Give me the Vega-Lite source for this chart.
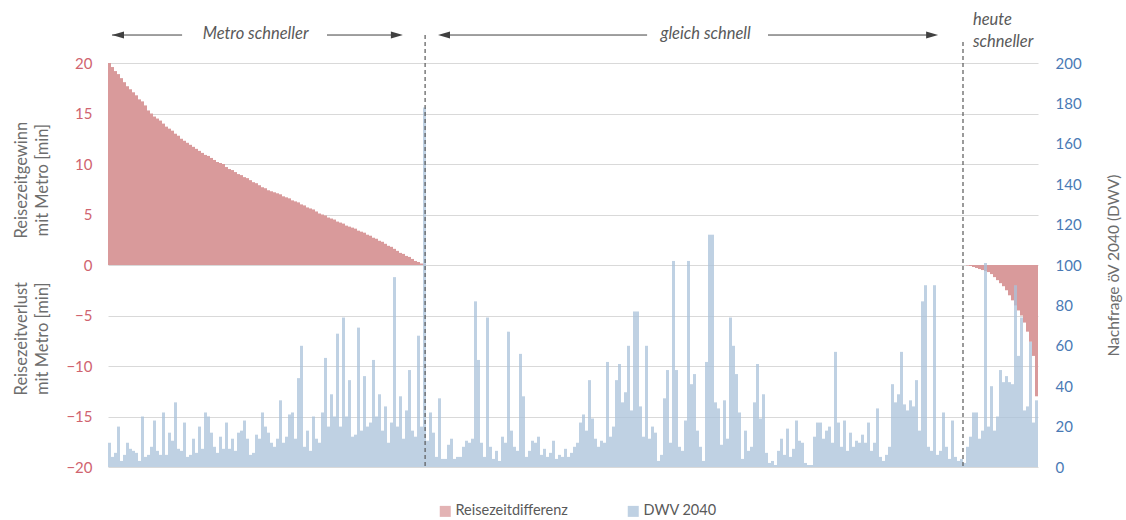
{
"$schema": "https://vega.github.io/schema/vega-lite/v6.json",
"width": 930, "height": 404,
"autosize": "none",
"padding": {"left": 108, "top": 63, "right": 88, "bottom": 53},
"config": {"view": {"stroke": null}, "font": "Lato"},
"datasets": {
"bars": [
{"i":0,"d":20,"v":12},{"i":1,"d":19.6,"v":5},{"i":2,"d":19.2,"v":7},{"i":3,"d":18.9,"v":20},{"i":4,"d":18.5,"v":3},{"i":5,"d":18.1,"v":6},{"i":6,"d":17.7,"v":12},{"i":7,"d":17.4,"v":9},{"i":8,"d":17.1,"v":8},{"i":9,"d":16.8,"v":7},
{"i":10,"d":16.4,"v":3},{"i":11,"d":16.2,"v":25},{"i":12,"d":15.8,"v":5},{"i":13,"d":15.3,"v":6},{"i":14,"d":15.0,"v":10},{"i":15,"d":14.7,"v":23},{"i":16,"d":14.5,"v":8},{"i":17,"d":14.3,"v":6},{"i":18,"d":14.0,"v":27},{"i":19,"d":13.7,"v":6},
{"i":20,"d":13.5,"v":17},{"i":21,"d":13.3,"v":13},{"i":22,"d":13.0,"v":32},{"i":23,"d":12.8,"v":9},{"i":24,"d":12.5,"v":8},{"i":25,"d":12.3,"v":22},{"i":26,"d":12.1,"v":5},{"i":27,"d":11.9,"v":6},{"i":28,"d":11.7,"v":14},{"i":29,"d":11.5,"v":7},
{"i":30,"d":11.3,"v":20},{"i":31,"d":11.1,"v":9},{"i":32,"d":10.9,"v":27},{"i":33,"d":10.8,"v":25},{"i":34,"d":10.6,"v":17},{"i":35,"d":10.4,"v":10},{"i":36,"d":10.2,"v":7},{"i":37,"d":10.1,"v":15},{"i":38,"d":10.0,"v":9},{"i":39,"d":9.7,"v":22},
{"i":40,"d":9.5,"v":9},{"i":41,"d":9.4,"v":14},{"i":42,"d":9.2,"v":8},{"i":43,"d":9.0,"v":17},{"i":44,"d":8.9,"v":18},{"i":45,"d":8.7,"v":23},{"i":46,"d":8.6,"v":14},{"i":47,"d":8.4,"v":6},{"i":48,"d":8.2,"v":7},{"i":49,"d":8.1,"v":16},
{"i":50,"d":7.9,"v":14},{"i":51,"d":7.7,"v":27},{"i":52,"d":7.6,"v":20},{"i":53,"d":7.4,"v":17},{"i":54,"d":7.3,"v":12},{"i":55,"d":7.2,"v":10},{"i":56,"d":7.1,"v":14},{"i":57,"d":7.0,"v":33},{"i":58,"d":6.8,"v":12},{"i":59,"d":6.7,"v":15},
{"i":60,"d":6.6,"v":26},{"i":61,"d":6.4,"v":27},{"i":62,"d":6.3,"v":14},{"i":63,"d":6.2,"v":44},{"i":64,"d":6.0,"v":60},{"i":65,"d":5.9,"v":10},{"i":66,"d":5.7,"v":18},{"i":67,"d":5.6,"v":8},{"i":68,"d":5.5,"v":25},{"i":69,"d":5.3,"v":14},
{"i":70,"d":5.1,"v":12},{"i":71,"d":5.0,"v":27},{"i":72,"d":4.9,"v":54},{"i":73,"d":4.7,"v":20},{"i":74,"d":4.6,"v":36},{"i":75,"d":4.5,"v":25},{"i":76,"d":4.3,"v":66},{"i":77,"d":4.2,"v":20},{"i":78,"d":4.1,"v":74},{"i":79,"d":3.9,"v":25},
{"i":80,"d":3.8,"v":43},{"i":81,"d":3.7,"v":15},{"i":82,"d":3.6,"v":16},{"i":83,"d":3.4,"v":69},{"i":84,"d":3.3,"v":18},{"i":85,"d":3.2,"v":45},{"i":86,"d":3.0,"v":20},{"i":87,"d":2.9,"v":22},{"i":88,"d":2.7,"v":53},{"i":89,"d":2.6,"v":25},
{"i":90,"d":2.4,"v":36},{"i":91,"d":2.3,"v":18},{"i":92,"d":2.1,"v":30},{"i":93,"d":1.9,"v":12},{"i":94,"d":1.8,"v":22},{"i":95,"d":1.6,"v":94},{"i":96,"d":1.4,"v":20},{"i":97,"d":1.2,"v":35},{"i":98,"d":1.1,"v":14},{"i":99,"d":0.9,"v":28},
{"i":100,"d":0.8,"v":48},{"i":101,"d":0.6,"v":18},{"i":102,"d":0.4,"v":15},{"i":103,"d":0.3,"v":65},{"i":104,"d":0.15,"v":20},{"i":105,"d":0.05,"v":178},{"i":106,"d":0,"v":13},{"i":107,"d":0,"v":27},{"i":108,"d":0,"v":17},{"i":109,"d":0,"v":5},
{"i":110,"d":0,"v":34},{"i":111,"d":0,"v":4},{"i":112,"d":0,"v":4},{"i":113,"d":0,"v":11},{"i":114,"d":0,"v":14},{"i":115,"d":0,"v":4},{"i":116,"d":0,"v":5},{"i":117,"d":0,"v":5},{"i":118,"d":0,"v":10},{"i":119,"d":0,"v":13},
{"i":120,"d":0,"v":12},{"i":121,"d":0,"v":14},{"i":122,"d":0,"v":82},{"i":123,"d":0,"v":53},{"i":124,"d":0,"v":12},{"i":125,"d":0,"v":5},{"i":126,"d":0,"v":74},{"i":127,"d":0,"v":10},{"i":128,"d":0,"v":4},{"i":129,"d":0,"v":8},
{"i":130,"d":0,"v":3},{"i":131,"d":0,"v":15},{"i":132,"d":0,"v":12},{"i":133,"d":0,"v":67},{"i":134,"d":0,"v":18},{"i":135,"d":0,"v":10},{"i":136,"d":0,"v":8},{"i":137,"d":0,"v":56},{"i":138,"d":0,"v":35},{"i":139,"d":0,"v":5},
{"i":140,"d":0,"v":8},{"i":141,"d":0,"v":13},{"i":142,"d":0,"v":12},{"i":143,"d":0,"v":15},{"i":144,"d":0,"v":6},{"i":145,"d":0,"v":9},{"i":146,"d":0,"v":5},{"i":147,"d":0,"v":7},{"i":148,"d":0,"v":13},{"i":149,"d":0,"v":4},
{"i":150,"d":0,"v":6},{"i":151,"d":0,"v":5},{"i":152,"d":0,"v":9},{"i":153,"d":0,"v":5},{"i":154,"d":0,"v":7},{"i":155,"d":0,"v":10},{"i":156,"d":0,"v":12},{"i":157,"d":0,"v":22},{"i":158,"d":0,"v":26},{"i":159,"d":0,"v":18},
{"i":160,"d":0,"v":43},{"i":161,"d":0,"v":24},{"i":162,"d":0,"v":14},{"i":163,"d":0,"v":10},{"i":164,"d":0,"v":13},{"i":165,"d":0,"v":12},{"i":166,"d":0,"v":52},{"i":167,"d":0,"v":15},{"i":168,"d":0,"v":20},{"i":169,"d":0,"v":43},
{"i":170,"d":0,"v":51},{"i":171,"d":0,"v":32},{"i":172,"d":0,"v":37},{"i":173,"d":0,"v":60},{"i":174,"d":0,"v":28},{"i":175,"d":0,"v":77},{"i":176,"d":0,"v":77},{"i":177,"d":0,"v":30},{"i":178,"d":0,"v":15},{"i":179,"d":0,"v":60},
{"i":180,"d":0,"v":14},{"i":181,"d":0,"v":20},{"i":182,"d":0,"v":17},{"i":183,"d":0,"v":3},{"i":184,"d":0,"v":6},{"i":185,"d":0,"v":34},{"i":186,"d":0,"v":48},{"i":187,"d":0,"v":12},{"i":188,"d":0,"v":102},{"i":189,"d":0,"v":48},
{"i":190,"d":0,"v":10},{"i":191,"d":0,"v":8},{"i":192,"d":0,"v":23},{"i":193,"d":0,"v":102},{"i":194,"d":0,"v":41},{"i":195,"d":0,"v":46},{"i":196,"d":0,"v":18},{"i":197,"d":0,"v":10},{"i":198,"d":0,"v":3},{"i":199,"d":0,"v":52},
{"i":200,"d":0,"v":115},{"i":201,"d":0,"v":115},{"i":202,"d":0,"v":32},{"i":203,"d":0,"v":29},{"i":204,"d":0,"v":11},{"i":205,"d":0,"v":33},{"i":206,"d":0,"v":14},{"i":207,"d":0,"v":74},{"i":208,"d":0,"v":60},{"i":209,"d":0,"v":46},
{"i":210,"d":0,"v":27},{"i":211,"d":0,"v":4},{"i":212,"d":0,"v":18},{"i":213,"d":0,"v":8},{"i":214,"d":0,"v":10},{"i":215,"d":0,"v":32},{"i":216,"d":0,"v":51},{"i":217,"d":0,"v":24},{"i":218,"d":0,"v":36},{"i":219,"d":0,"v":7},
{"i":220,"d":0,"v":2},{"i":221,"d":0,"v":3},{"i":222,"d":0,"v":1},{"i":223,"d":0,"v":8},{"i":224,"d":0,"v":14},{"i":225,"d":0,"v":6},{"i":226,"d":0,"v":19},{"i":227,"d":0,"v":5},{"i":228,"d":0,"v":9},{"i":229,"d":0,"v":23},
{"i":230,"d":0,"v":13},{"i":231,"d":0,"v":12},{"i":232,"d":0,"v":2},{"i":233,"d":0,"v":1},{"i":234,"d":0,"v":1},{"i":235,"d":0,"v":15},{"i":236,"d":0,"v":22},{"i":237,"d":0,"v":22},{"i":238,"d":0,"v":14},{"i":239,"d":0,"v":18},
{"i":240,"d":0,"v":20},{"i":241,"d":0,"v":12},{"i":242,"d":0,"v":57},{"i":243,"d":0,"v":22},{"i":244,"d":0,"v":10},{"i":245,"d":0,"v":23},{"i":246,"d":0,"v":8},{"i":247,"d":0,"v":17},{"i":248,"d":0,"v":10},{"i":249,"d":0,"v":13},
{"i":250,"d":0,"v":12},{"i":251,"d":0,"v":16},{"i":252,"d":0,"v":12},{"i":253,"d":0,"v":22},{"i":254,"d":0,"v":8},{"i":255,"d":0,"v":12},{"i":256,"d":0,"v":29},{"i":257,"d":0,"v":5},{"i":258,"d":0,"v":3},{"i":259,"d":0,"v":6},
{"i":260,"d":0,"v":10},{"i":261,"d":0,"v":41},{"i":262,"d":0,"v":32},{"i":263,"d":0,"v":36},{"i":264,"d":0,"v":57},{"i":265,"d":0,"v":31},{"i":266,"d":0,"v":28},{"i":267,"d":0,"v":33},{"i":268,"d":0,"v":30},{"i":269,"d":0,"v":43},
{"i":270,"d":0,"v":18},{"i":271,"d":0,"v":82},{"i":272,"d":0,"v":90},{"i":273,"d":0,"v":10},{"i":274,"d":0,"v":8},{"i":275,"d":0,"v":90},{"i":276,"d":0,"v":6},{"i":277,"d":0,"v":8},{"i":278,"d":0,"v":27},{"i":279,"d":0,"v":10},
{"i":280,"d":0,"v":4},{"i":281,"d":0,"v":23},{"i":282,"d":0,"v":5},{"i":283,"d":0,"v":3},{"i":284,"d":0,"v":4},{"i":285,"d":0,"v":2},{"i":286,"d":-0.05,"v":10},{"i":287,"d":-0.1,"v":15},{"i":288,"d":-0.2,"v":27},{"i":289,"d":-0.3,"v":27},
{"i":290,"d":-0.4,"v":14},{"i":291,"d":-0.5,"v":18},{"i":292,"d":-0.6,"v":101},{"i":293,"d":-0.7,"v":20},{"i":294,"d":-0.9,"v":40},{"i":295,"d":-1.2,"v":18},{"i":296,"d":-1.5,"v":25},{"i":297,"d":-1.8,"v":48},{"i":298,"d":-2.1,"v":42},{"i":299,"d":-2.5,"v":45},
{"i":300,"d":-3.0,"v":42},{"i":301,"d":-3.5,"v":41},{"i":302,"d":-4.0,"v":90},{"i":303,"d":-4.5,"v":55},{"i":304,"d":-5.0,"v":74},{"i":305,"d":-5.7,"v":28},{"i":306,"d":-6.6,"v":30},{"i":307,"d":-7.6,"v":62},{"i":308,"d":-9.0,"v":22},{"i":309,"d":-13,"v":33}
],
"vlines": [{"x":105.2,"y":22.77,"y2":-20},{"x":284.5,"y":22.08,"y2":-20}],
"arrows": [{"x":0.83,"x2":24.2,"y":22.77},{"x":72.5,"x2":96,"y":22.77},{"x":111,"x2":179.2,"y":22.77},{"x":219.5,"x2":274,"y":22.77}],
"heads": [{"x":2.83,"y":22.77,"dir":"L"},{"x":95.8,"y":22.77,"dir":"R"},{"x":111.5,"y":22.77,"dir":"L"},{"x":274.2,"y":22.77,"dir":"R"}],
"notes": [{"x":48.7,"y":22.85,"t":"Metro schneller"},{"x":198.7,"y":22.85,"t":"gleich schnell"}],
"heute": [{"x":287.8,"y":24.26,"t":"heute\nschneller"}],
"ytitles": [{"x":-29.2,"y":8.4,"t":"Reisezeitgewinn\nmit Metro [min]"},{"x":-29.2,"y":-7.3,"t":"Reisezeitverlust\nmit Metro [min]"}]
},
"layer": [
{
"data": {"name": "bars"},
"mark": {"type": "bar", "width": 3},
"encoding": {
"x": {"field": "i", "type": "quantitative", "scale": {"domain": [-0.5, 309.5], "nice": false, "zero": false, "padding": 0},
"axis": {"labels": false, "ticks": false, "grid": false, "title": null, "domainColor": "#bfbfbf", "domainWidth": 1}},
"y": {"field": "d", "type": "quantitative", "scale": {"domain": [-20, 20], "nice": false},
"axis": {"values": [-20,-15,-10,-5,0,5,10,15,20], "title": null, "labelColor": "#d0646f", "labelFontSize": 15, "labelFont": "Lato", "labelPadding": 16, "ticks": false, "domain": false, "grid": true, "gridColor": "#d9d9d9", "gridWidth": 1}},
"color": {"datum": "Reisezeitdifferenz", "type": "nominal",
"scale": {"domain": ["Reisezeitdifferenz", "DWV 2040"], "range": ["#d99a9b", "#a9c1da"]},
"legend": {"orient": "none", "legendX": 330, "legendY": 441, "direction": "horizontal", "title": null, "symbolType": "square", "symbolSize": 121, "symbolStrokeWidth": 0, "labelFontSize": 14.5, "labelFont": "Lato", "labelColor": "#595959", "columnPadding": 58, "labelOffset": 3}}
}
},
{
"data": {"name": "bars"},
"mark": {"type": "bar", "width": 3, "opacity": 0.75},
"encoding": {
"x": {"field": "i", "type": "quantitative", "scale": {"domain": [-0.5, 309.5], "nice": false, "zero": false, "padding": 0}, "axis": null},
"y": {"field": "v", "type": "quantitative", "scale": {"domain": [0, 200], "nice": false},
"axis": {"orient": "right", "values": [0,20,40,60,80,100,120,140,160,180,200], "title": "Nachfrage öV 2040 (DWV)", "titleAngle": 270, "titleX": 75, "titleY": 202, "titleAlign": "center", "titleBaseline": "middle", "titleColor": "#6d6d6d", "titleFontSize": 15.5, "titleFontWeight": "normal", "titleFont": "Lato", "labelColor": "#4a7ab5", "labelFontSize": 15, "labelFont": "Lato", "labelPadding": 17, "ticks": false, "domain": false, "grid": false}},
"color": {"datum": "DWV 2040", "type": "nominal"}
}
},
{
"data": {"name": "vlines"},
"mark": {"type": "rule", "color": "#595959", "strokeDash": [4, 3], "strokeWidth": 1.2},
"encoding": {
"x": {"field": "x", "type": "quantitative", "scale": {"domain": [-0.5, 309.5], "nice": false, "zero": false, "padding": 0}, "axis": null},
"y": {"field": "y", "type": "quantitative", "scale": {"domain": [-20, 20], "nice": false}, "axis": null},
"y2": {"field": "y2"}
}
},
{
"data": {"name": "arrows"},
"mark": {"type": "rule", "color": "#404040", "strokeWidth": 1},
"encoding": {
"x": {"field": "x", "type": "quantitative", "scale": {"domain": [-0.5, 309.5], "nice": false, "zero": false, "padding": 0}, "axis": null},
"x2": {"field": "x2"},
"y": {"field": "y", "type": "quantitative", "scale": {"domain": [-20, 20], "nice": false}, "axis": null}
}
},
{
"data": {"name": "heads"},
"mark": {"type": "point", "filled": true, "color": "#404040", "opacity": 1, "size": 144, "strokeWidth": 0},
"encoding": {
"x": {"field": "x", "type": "quantitative", "scale": {"domain": [-0.5, 309.5], "nice": false, "zero": false, "padding": 0}, "axis": null},
"y": {"field": "y", "type": "quantitative", "scale": {"domain": [-20, 20], "nice": false}, "axis": null},
"shape": {"field": "dir", "type": "nominal", "scale": {"domain": ["L", "R"], "range": ["M-1,0L1,-0.6L1,0.6Z", "M1,0L-1,-0.6L-1,0.6Z"]}, "legend": null}
}
},
{
"data": {"name": "notes"},
"mark": {"type": "text", "fontStyle": "italic", "fontSize": 16.5, "color": "#595959", "align": "center", "baseline": "middle"},
"encoding": {
"x": {"field": "x", "type": "quantitative", "scale": {"domain": [-0.5, 309.5], "nice": false, "zero": false, "padding": 0}, "axis": null},
"y": {"field": "y", "type": "quantitative", "scale": {"domain": [-20, 20], "nice": false}, "axis": null},
"text": {"field": "t", "type": "nominal"}
}
},
{
"data": {"name": "heute"},
"mark": {"type": "text", "fontStyle": "italic", "fontSize": 16.5, "color": "#595959", "align": "left", "baseline": "middle", "lineBreak": "\n", "lineHeight": 22},
"encoding": {
"x": {"field": "x", "type": "quantitative", "scale": {"domain": [-0.5, 309.5], "nice": false, "zero": false, "padding": 0}, "axis": null},
"y": {"field": "y", "type": "quantitative", "scale": {"domain": [-20, 20], "nice": false}, "axis": null},
"text": {"field": "t", "type": "nominal"}
}
},
{
"data": {"name": "ytitles"},
"mark": {"type": "text", "fontSize": 16.5, "color": "#6d6d6d", "align": "center", "baseline": "middle", "angle": 270, "lineBreak": "\n", "lineHeight": 21},
"encoding": {
"x": {"field": "x", "type": "quantitative", "scale": {"domain": [-0.5, 309.5], "nice": false, "zero": false, "padding": 0}, "axis": null},
"y": {"field": "y", "type": "quantitative", "scale": {"domain": [-20, 20], "nice": false}, "axis": null},
"text": {"field": "t", "type": "nominal"}
}
}
],
"resolve": {"scale": {"y": "independent"}}
}
